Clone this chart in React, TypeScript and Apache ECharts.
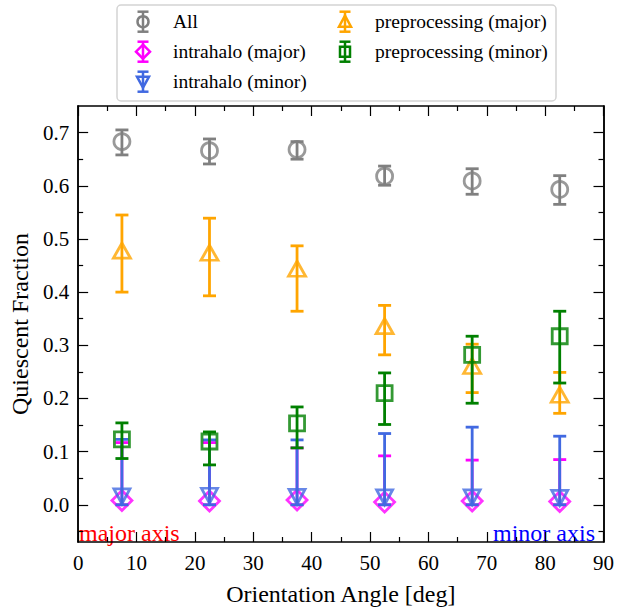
import React, { useEffect, useRef } from "react";
import * as echarts from "echarts";

// Orientation-angle bins (bin centres, degrees)
const angles = [7.5, 22.5, 37.5, 52.5, 67.5, 82.5];

// All satellites
const allFrac = [0.683, 0.666, 0.668, 0.618, 0.609, 0.593];
const allLo = [0.658, 0.641, 0.65, 0.601, 0.584, 0.565];
const allHi = [0.705, 0.688, 0.683, 0.637, 0.632, 0.619];

// Intrahalo quenching, major / minor axis
const intraMajorFrac = [0.008, 0.007, 0.009, 0.005, 0.007, 0.006];
const intraMajorLo = [0, 0, 0, 0, 0, 0];
const intraMajorHi = [0.117, 0.117, 0.107, 0.092, 0.084, 0.085];

const intraMinorFrac = [0.016, 0.017, 0.015, 0.014, 0.014, 0.013];
const intraMinorLo = [0, 0, 0, 0, 0, 0];
const intraMinorHi = [0.123, 0.122, 0.122, 0.134, 0.146, 0.129];

// Preprocessing, major / minor axis
const preMajorFrac = [0.478, 0.474, 0.444, 0.336, 0.261, 0.207];
const preMajorLo = [0.4, 0.393, 0.364, 0.282, 0.211, 0.172];
const preMajorHi = [0.545, 0.539, 0.487, 0.375, 0.302, 0.249];

const preMinorFrac = [0.123, 0.119, 0.153, 0.21, 0.282, 0.317];
const preMinorLo = [0.087, 0.075, 0.107, 0.151, 0.191, 0.229];
const preMinorHi = [0.154, 0.137, 0.184, 0.248, 0.317, 0.364];

// Axis ticks
const yMajorTicks = [0, 0.1, 0.2, 0.3, 0.4, 0.5, 0.6, 0.7];
const yMinorTicks = [-0.05, 0.05, 0.15, 0.25, 0.35, 0.45, 0.55, 0.65];

const FONT = "'Liberation Serif', 'Times New Roman', serif";
const GRAY = "#808080";
const MAGENTA = "#ff00ff";
const BLUE = "#4169e1";
const ORANGE = "#ffa500";
const GREEN = "#008000";

const LW = 2.8;

function errorBars(name: string, color: string, lo: number[], hi: number[], z: number) {
  return {
    type: "custom",
    name,
    z,
    xAxisIndex: 0,
    yAxisIndex: 0,
    data: angles.map((a, i) => [a, lo[i], hi[i]]),
    encode: { x: 0, y: [1, 2] },
    renderItem: (_params: any, api: any) => {
      const x = api.value(0);
      const top = api.coord([x, api.value(2)]);
      const bot = api.coord([x, api.value(1)]);
      const hw = 6.5;
      const style = { stroke: color, lineWidth: LW };
      return {
        type: "group",
        children: [
          { type: "line", shape: { x1: top[0], y1: top[1], x2: bot[0], y2: bot[1] }, style },
          { type: "line", shape: { x1: top[0] - hw, y1: top[1], x2: top[0] + hw, y2: top[1] }, style },
          { type: "line", shape: { x1: bot[0] - hw, y1: bot[1], x2: bot[0] + hw, y2: bot[1] }, style },
        ],
      };
    },
  };
}

function markers(
  name: string,
  color: string,
  values: number[],
  symbol: string,
  size: number | number[],
  z: number,
  rotate = 0
) {
  return {
    type: "scatter",
    name,
    z,
    xAxisIndex: 0,
    yAxisIndex: 0,
    data: angles.map((a, i) => [a, values[i]]),
    symbol,
    symbolSize: size,
    symbolRotate: rotate,
    itemStyle: { color: "rgba(0,0,0,0)", borderColor: color, borderWidth: LW },
    emphasis: { disabled: true },
  };
}

// Legend entry: small error bar with the series marker on it
function legendEntry(x: number, y: number, color: string, marker: any, label: string) {
  const style = { stroke: color, lineWidth: 2.5, fill: "none" };
  return {
    type: "group",
    x,
    y,
    children: [
      { type: "line", shape: { x1: 0, y1: -10, x2: 0, y2: 10 }, style },
      { type: "line", shape: { x1: -5.5, y1: -10, x2: 5.5, y2: -10 }, style },
      { type: "line", shape: { x1: -5.5, y1: 10, x2: 5.5, y2: 10 }, style },
      { ...marker, style },
      {
        type: "text",
        x: 30,
        y: 0,
        style: {
          text: label,
          fontFamily: FONT,
          fontSize: 19.5,
          fill: "#000",
          verticalAlign: "middle",
          align: "left",
        },
      },
    ],
  };
}

const circleIcon = { type: "circle", shape: { cx: 0, cy: 0, r: 5.5 } };
const diamondIcon = { type: "polygon", shape: { points: [[0, -7], [7, 0], [0, 7], [-7, 0]] } };
const downTriIcon = { type: "polygon", shape: { points: [[-6, -5], [6, -5], [0, 6]] } };
const upTriIcon = { type: "polygon", shape: { points: [[0, -6], [-6, 5], [6, 5]] } };
const squareIcon = { type: "rect", shape: { x: -5, y: -5, width: 10, height: 10 } };

export default function App() {
  const ref = useRef<HTMLDivElement>(null);

  useEffect(() => {
    document.body.style.margin = "0";
    if (!ref.current) return;
    const chart = echarts.init(ref.current, undefined, { renderer: "svg" });

    const frame = { show: true, onZero: false, lineStyle: { color: "#000", width: 1.5 } };
    const tickLine = { color: "#000", width: 1.2 };

    const yBase = {
      type: "value",
      min: -0.07,
      max: 0.75,
      splitLine: { show: false },
      axisLine: frame,
    };

    const xBase = {
      type: "value",
      min: 0,
      max: 90,
      interval: 10,
      splitLine: { show: false },
      axisLine: frame,
      axisTick: { show: true, inside: true, length: 10, lineStyle: tickLine },
      minorTick: { show: true, splitNumber: 2, length: 5, lineStyle: tickLine },
    };

    const option: any = {
      animation: false,
      textStyle: { fontFamily: FONT },
      grid: { left: 67, right: 10, top: 106, bottom: 66, containLabel: false },
      xAxis: [
        {
          ...xBase,
          position: "bottom",
          name: "Orientation Angle [deg]",
          nameLocation: "middle",
          nameGap: 40,
          nameTextStyle: { fontFamily: FONT, fontSize: 24, color: "#000" },
          axisLabel: { fontFamily: FONT, fontSize: 21, color: "#000", margin: 10 },
        },
        {
          ...xBase,
          position: "top",
          axisLabel: { show: false },
        },
      ],
      yAxis: [
        {
          ...yBase,
          position: "left",
          name: "Quiescent Fraction",
          nameLocation: "middle",
          nameGap: 35,
          nameTextStyle: { fontFamily: FONT, fontSize: 24, color: "#000" },
          axisLabel: {
            customValues: yMajorTicks,
            formatter: (v: number) => v.toFixed(1),
            fontFamily: FONT,
            fontSize: 21,
            color: "#000",
            margin: 9,
          },
          axisTick: { show: true, inside: true, length: 10, customValues: yMajorTicks, lineStyle: tickLine },
        },
        {
          ...yBase,
          position: "left",
          axisLabel: { show: false },
          axisTick: { show: true, inside: true, length: 5, customValues: yMinorTicks, lineStyle: tickLine },
        },
        {
          ...yBase,
          position: "right",
          axisLabel: { show: false },
          axisTick: { show: true, inside: true, length: 10, customValues: yMajorTicks, lineStyle: tickLine },
        },
        {
          ...yBase,
          position: "right",
          axisLabel: { show: false },
          axisTick: { show: true, inside: true, length: 5, customValues: yMinorTicks, lineStyle: tickLine },
        },
      ],
      series: [
        errorBars("All", GRAY, allLo, allHi, 2),
        markers("All", GRAY, allFrac, "circle", 16, 3),
        errorBars("intrahalo (major)", MAGENTA, intraMajorLo, intraMajorHi, 4),
        markers("intrahalo (major)", MAGENTA, intraMajorFrac, "diamond", 20, 5),
        errorBars("intrahalo (minor)", BLUE, intraMinorLo, intraMinorHi, 6),
        markers("intrahalo (minor)", BLUE, intraMinorFrac, "triangle", [16, 15], 7, 180),
        errorBars("preprocessing (major)", ORANGE, preMajorLo, preMajorHi, 8),
        markers("preprocessing (major)", ORANGE, preMajorFrac, "triangle", [17, 15], 9),
        errorBars("preprocessing (minor)", GREEN, preMinorLo, preMinorHi, 10),
        markers("preprocessing (minor)", GREEN, preMinorFrac, "rect", 15, 11),
      ],
      graphic: {
        elements: [
          {
            type: "group",
            children: [
              {
                type: "rect",
                shape: { x: 117, y: 5, width: 439, height: 96, r: 4 },
                style: { fill: "#fff", stroke: "#d4d4d4", lineWidth: 1.5 },
              },
              legendEntry(143, 21.7, GRAY, circleIcon, "All"),
              legendEntry(143, 51.7, MAGENTA, diamondIcon, "intrahalo (major)"),
              legendEntry(143, 81.7, BLUE, downTriIcon, "intrahalo (minor)"),
              legendEntry(345, 21.7, ORANGE, upTriIcon, "preprocessing (major)"),
              legendEntry(345, 51.7, GREEN, squareIcon, "preprocessing (minor)"),
            ],
          },
          {
            type: "text",
            x: 79,
            y: 533,
            style: {
              text: "major axis",
              fontFamily: FONT,
              fontSize: 24,
              fill: "#ff0000",
              align: "left",
              verticalAlign: "middle",
            },
          },
          {
            type: "text",
            x: 595,
            y: 533,
            style: {
              text: "minor axis",
              fontFamily: FONT,
              fontSize: 24,
              fill: "#0000ff",
              align: "right",
              verticalAlign: "middle",
            },
          },
        ],
      },
    };

    chart.setOption(option);
    return () => chart.dispose();
  }, []);

  return (
    <div
      ref={ref}
      style={{ position: "absolute", left: 0, top: 0, width: 617, height: 611, background: "#fff" }}
    />
  );
}
